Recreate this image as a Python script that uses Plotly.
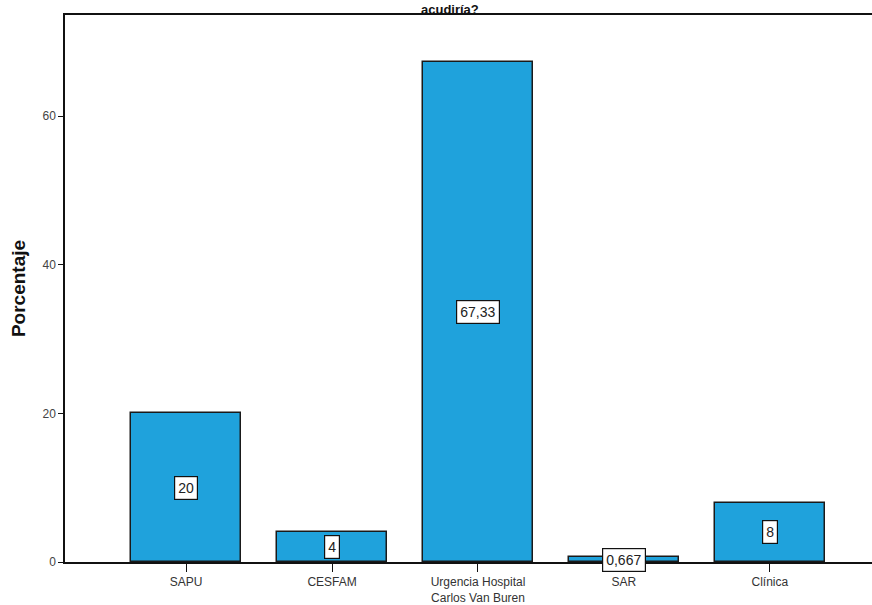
import plotly.graph_objects as go

categories = ["SAPU", "CESFAM", "Urgencia Hospital<br>Carlos Van Buren", "SAR", "Clínica"]
values = [20, 4, 67.33, 0.667, 8]
value_labels = ["20", "4", "67,33", "0,667", "8"]
title_text = "acudiría?"
y_title = "Porcentaje"
y_ticks = [0, 20, 40, 60]

fig = go.Figure()
fig.add_trace(go.Bar(
    x=list(range(len(categories))), y=values, width=0.75,
    marker=dict(color="#1fa2dc", line=dict(color="#1a1a1a", width=1.5)),
    hoverinfo="skip",
))

for i, (v, lab) in enumerate(zip(values, value_labels)):
    fig.add_annotation(x=i, y=v / 2, xref="x", yref="y", text=lab, showarrow=False,
                       font=dict(family="Arial, Liberation Sans", size=14, color="#222222"),
                       bgcolor="white", bordercolor="#111111", borderwidth=1.2, borderpad=3)

fig.add_annotation(x=0.477, y=1.027, xref="paper", yref="paper", yanchor="top", yshift=-1,
                   text="<b>" + title_text + "</b>", showarrow=False, borderpad=0,
                   font=dict(family="Arial, Liberation Sans", size=13, color="#111111"))

fig.update_layout(
    width=872, height=605,
    margin=dict(l=65, r=0, t=15, b=40),
    paper_bgcolor="white", plot_bgcolor="white",
    showlegend=False,
    font=dict(family="Arial, Liberation Sans", size=12, color="#333333"),
    xaxis=dict(
        range=[-0.83, 4.70], tickmode="array", tickvals=list(range(len(categories))),
        ticktext=categories, showline=True, linecolor="#111111", linewidth=1.5,
        mirror=True, ticks="outside", ticklen=8, tickcolor="#111111",
        showgrid=False, zeroline=False, tickfont=dict(size=12, color="#333333"),
    ),
    yaxis=dict(
        range=[0, 73.6], tickmode="array", tickvals=y_ticks,
        showline=True, linecolor="#111111", linewidth=1.5, ticks="outside", ticklen=5,
        tickcolor="#111111", showgrid=False, zeroline=False,
        title=dict(text="<b>" + y_title + "</b>", font=dict(size=19, color="#111111"), standoff=12),
        tickfont=dict(size=12, color="#444444"),
    ),
    bargap=0,
)

fig.write_html("out.html")
